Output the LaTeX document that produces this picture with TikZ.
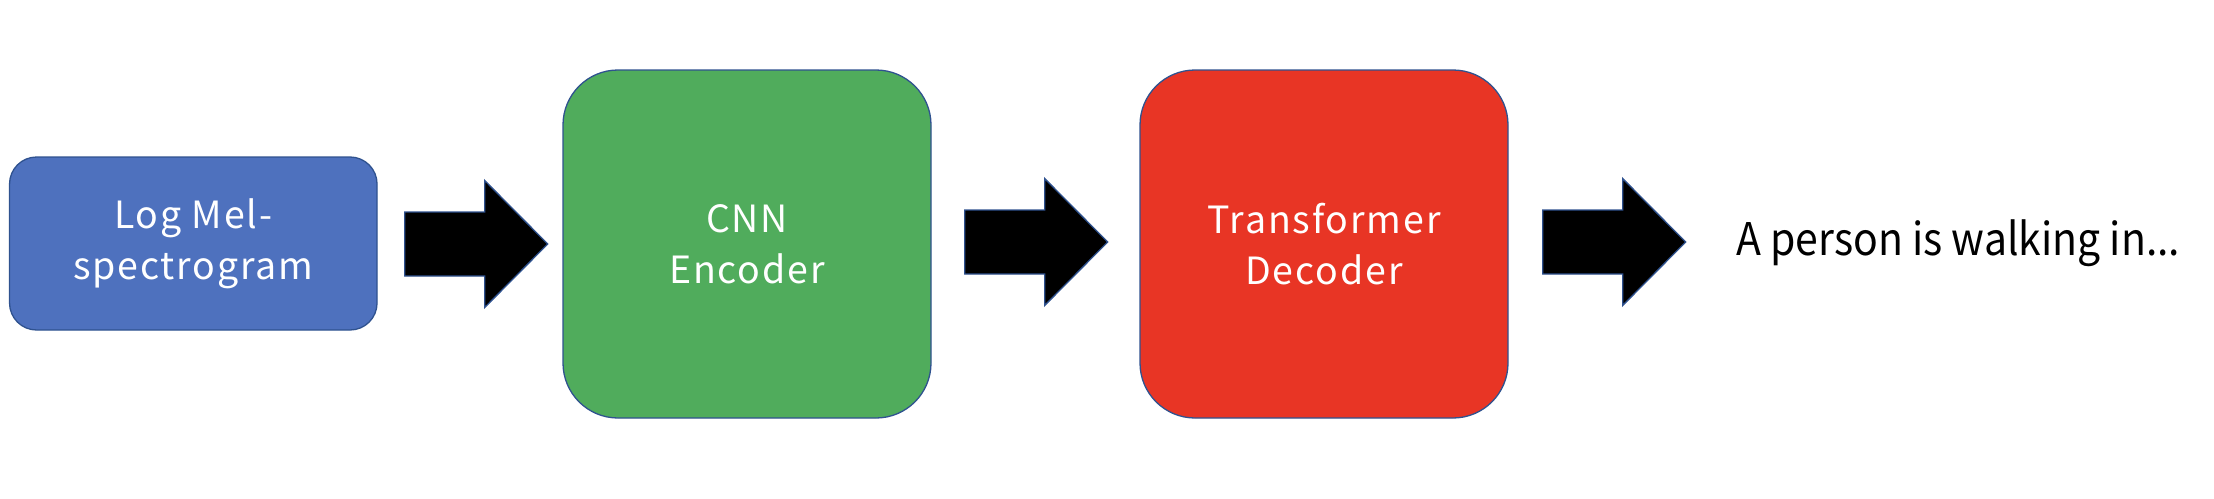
\documentclass[tikz,border=0pt]{standalone}
\usepackage{fontspec}
\setmainfont{Noto Sans CJK JP}
\newfontfamily\boxfont[LetterSpace=5]{Noto Sans CJK JP}
\newfontfamily\outfont[FakeStretch=0.91]{Noto Sans CJK JP}
\usetikzlibrary{calc}
\definecolor{boxblue}{HTML}{4E71BE}
\definecolor{boxgreen}{HTML}{50AC5C}
\definecolor{boxred}{HTML}{E83525}
\definecolor{edgeblue}{HTML}{2F528F}
\newcommand{\blkarrow}[1]{%
  \draw[blockarrow] ($(#1)+(0,-32)$) -- ++(80,0) -- ++(0,-31.5) -- ++(63,63.5)
    -- ++(-63,63.5) -- ++(0,-31.5) -- ++(-80,0) -- cycle;}
\begin{document}
\begin{tikzpicture}[x=1pt,y=-1pt,
  stage/.style={draw=edgeblue, line width=1.3pt, text=white,
    align=center, inner sep=0pt,
    font=\boxfont\fontsize{37.5}{51}\selectfont},
  blockarrow/.style={fill=black, draw=edgeblue, line width=1.3pt, line join=miter},
  outtext/.style={font=\outfont\fontsize{45}{56}\selectfont, text=black, inner sep=0pt}]
\useasboundingbox (0,0) rectangle (2214,498);
\node[stage, fill=boxblue, rounded corners=27pt, minimum width=367.5pt, minimum height=173pt]
  (mel) at (193.3,243.5) {Log Mel-\\spectrogram};
\node[stage, fill=boxgreen, rounded corners=55pt, minimum width=368pt, minimum height=348pt]
  (enc) at (747,244) {CNN\\Encoder};
\node[stage, fill=boxred, rounded corners=55pt, minimum width=368pt, minimum height=348pt]
  (dec) at (1324,244) {Transformer\\Decoder};
\node[outtext, anchor=base west] (out) at (1736,255) {A person is walking in...};
\coordinate (t1) at ($(mel.east)+(27,0.5)$);
\coordinate (t2) at ($(enc.east)+(33,-2)$);
\coordinate (t3) at ($(dec.east)+(34,-2)$);
\blkarrow{t1}
\blkarrow{t2}
\blkarrow{t3}
\end{tikzpicture}
\end{document}
